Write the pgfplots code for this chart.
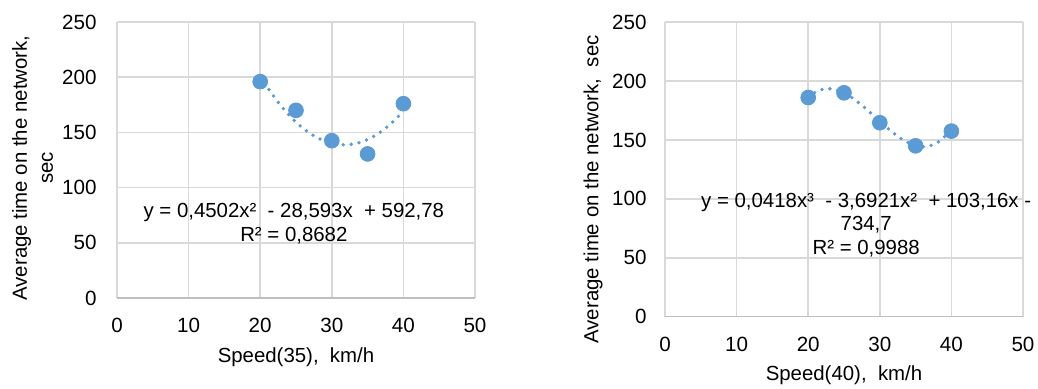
\documentclass[border=0pt]{standalone}
\usepackage{fontspec}
\setmainfont{Liberation Sans}
\usepackage{pgfplots}
\pgfplotsset{compat=1.18}
\definecolor{xlblue}{HTML}{5B9BD5}
\definecolor{gridgray}{HTML}{D9D9D9}
\definecolor{axgray}{HTML}{BFBFBF}
\pgfplotsset{
  xlstyle/.style={
    scale only axis,
    width=179pt,
    xmin=0, xmax=50, ymin=0, ymax=250,
    xtick={0,10,20,30,40,50}, ytick={0,50,100,150,200,250},
    grid=major,
    major grid style={draw=gridgray, line width=0.8pt},
    axis line style={draw=none},
    major tick length=0pt,
    tick label style={font=\fontsize{10.3}{12}\selectfont, text=black},
    /pgf/number format/assume math mode=true,
    xticklabel style={inner sep=0pt, anchor=north, yshift=-10pt},
    label style={font=\fontsize{10.2}{13}\selectfont},
    clip=false,
  },
  trend/.style={xlblue, line width=1.9pt, dash pattern=on 0pt off 4pt, line cap=round, smooth},
  pts/.style={only marks, mark=*, mark size=3.7pt, xlblue, mark options={fill=xlblue, draw=xlblue}},
}
\begin{document}
\begin{tikzpicture}
\path[use as bounding box] (0pt,0pt) rectangle (519pt,194.5pt);
\begin{axis}[xlstyle, at={(58.5pt,45.5pt)}, anchor=south west, height=138pt,
  yticklabel style={inner sep=0pt, anchor=east, xshift=-10pt},
  xlabel={Speed(35),\ \ km/h},
  xlabel style={at={(axis description cs:0.5,-0.2355)}, anchor=base},
  ylabel={Average time on the network,\\sec},
  ylabel style={at={(axis description cs:-0.236,0.471)}, anchor=center, align=center, rotate=0},
]
\addplot[trend] coordinates {
(20,201.0) (21,190.87) (22,181.63) (23,173.30) (24,165.87) (25,159.33) (26,153.70) (27,148.97)
(28,145.14) (29,142.20) (30,140.17) (31,139.04) (32,138.80) (33,139.48) (34,141.05) (35,143.52)
(36,146.89) (37,151.16) (38,156.34) (39,162.40) (40,169.38)};
\addplot[pts] coordinates {(20,196) (25,170) (30,142.5) (35,130.5) (40,176)};
\draw[axgray, line width=0.8pt] (axis cs:0,0) -- (axis cs:50,0);
\node[align=center, inner sep=0pt, font=\fontsize{10.2}{12}\selectfont] at (axis cs:24.7,67)
  {y = 0,4502x²\ \ - 28,593x\ \ + 592,78\\R² = 0,8682};
\end{axis}
\begin{axis}[xlstyle, at={(332.5pt,36.15pt)}, anchor=south west, height=147.3pt,
  yticklabel style={inner sep=0pt, anchor=east, xshift=-9pt},
  xlabel={Speed(40),\ \ km/h},
  xlabel style={at={(axis description cs:0.5,-0.218)}, anchor=base},
  ylabel={Average time on the network,\ \ sec},
  ylabel style={at={(axis description cs:-0.201,0.432)}, anchor=center, rotate=0},
]
\addplot[trend] coordinates {
(20,186.06) (21,190.55) (22,192.93) (23,193.44) (24,192.33) (25,189.87) (26,186.28) (27,181.83)
(28,176.76) (29,171.34) (30,165.81) (31,160.41) (32,155.41) (33,151.05) (34,147.58) (35,145.26)
(36,144.32) (37,145.04) (38,147.64) (39,152.39) (40,159.54)};
\addplot[pts] coordinates {(20,186) (25,190) (30,164.6) (35,145) (40,157.5)};
\draw[axgray, line width=0.8pt] (axis cs:0,0) -- (axis cs:50,0);
\node[align=center, inner sep=0pt, font=\fontsize{10.2}{11.75}\selectfont] at (axis cs:28.1,77.8)
  {y = 0,0418x³\ \ - 3,6921x²\ \ + 103,16x -\\734,7\\R² = 0,9988};
\end{axis}
\end{tikzpicture}
\end{document}
